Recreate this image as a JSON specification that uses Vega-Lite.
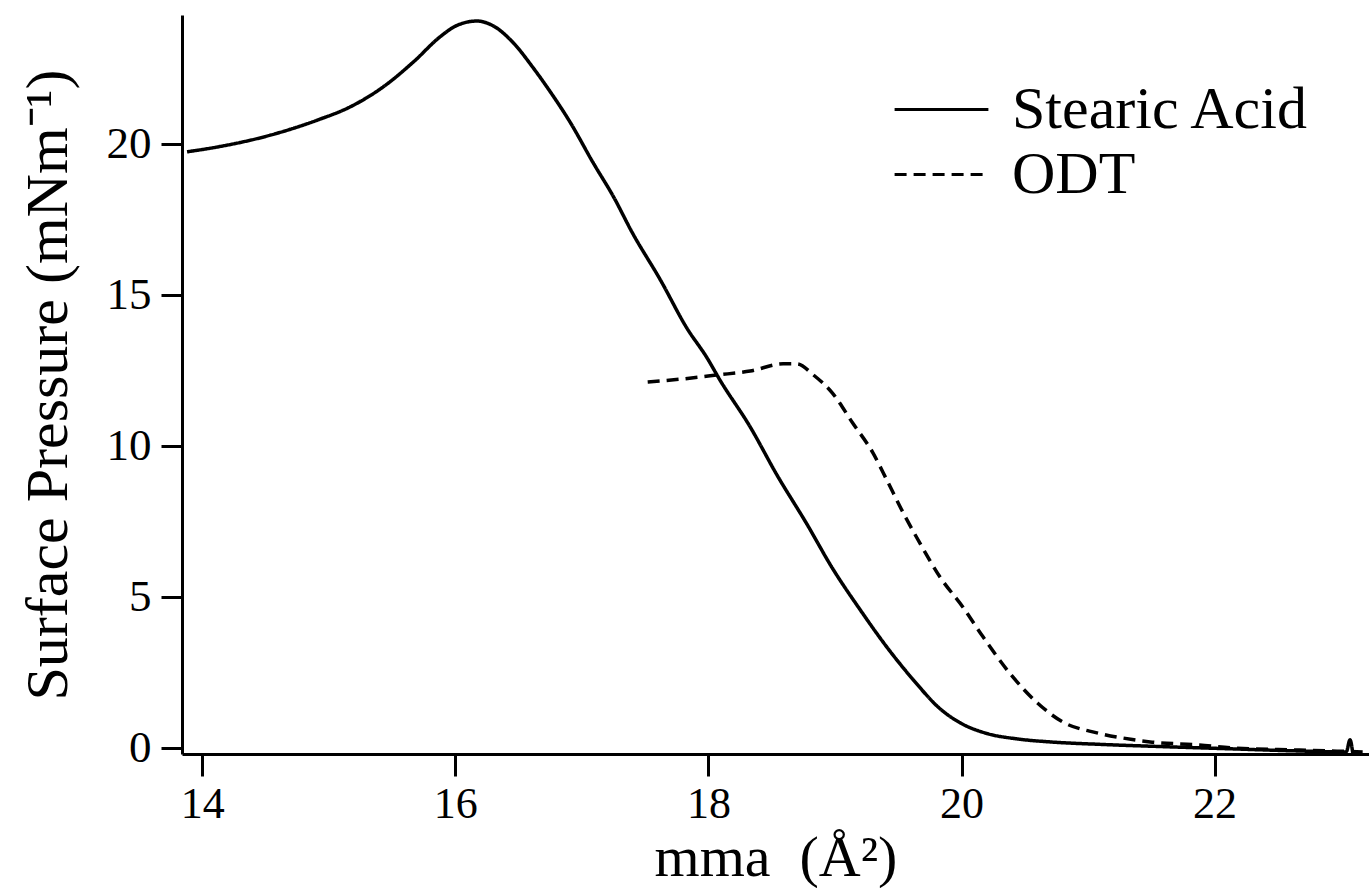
{
  "$schema": "https://vega.github.io/schema/vega-lite/v6.json",
  "width": 1187,
  "height": 739,
  "autosize": "none",
  "padding": {"left": 182, "top": 15, "right": 0, "bottom": 134},
  "background": "white",
  "config": {"view": {"stroke": null}, "font": "Liberation Serif"},
  "data": {"values": [
    {"film": "Stearic Acid", "mma": 13.88, "pressure": 19.74},
    {"film": "Stearic Acid", "mma": 14.12, "pressure": 19.90},
    {"film": "Stearic Acid", "mma": 14.51, "pressure": 20.26},
    {"film": "Stearic Acid", "mma": 14.91, "pressure": 20.79},
    {"film": "Stearic Acid", "mma": 15.17, "pressure": 21.23},
    {"film": "Stearic Acid", "mma": 15.43, "pressure": 21.89},
    {"film": "Stearic Acid", "mma": 15.67, "pressure": 22.72},
    {"film": "Stearic Acid", "mma": 15.88, "pressure": 23.55},
    {"film": "Stearic Acid", "mma": 16.01, "pressure": 23.92},
    {"film": "Stearic Acid", "mma": 16.17, "pressure": 24.07},
    {"film": "Stearic Acid", "mma": 16.30, "pressure": 23.91},
    {"film": "Stearic Acid", "mma": 16.46, "pressure": 23.34},
    {"film": "Stearic Acid", "mma": 16.61, "pressure": 22.55},
    {"film": "Stearic Acid", "mma": 16.73, "pressure": 21.85},
    {"film": "Stearic Acid", "mma": 16.91, "pressure": 20.70},
    {"film": "Stearic Acid", "mma": 17.09, "pressure": 19.37},
    {"film": "Stearic Acid", "mma": 17.25, "pressure": 18.25},
    {"film": "Stearic Acid", "mma": 17.40, "pressure": 17.05},
    {"film": "Stearic Acid", "mma": 17.62, "pressure": 15.50},
    {"film": "Stearic Acid", "mma": 17.83, "pressure": 13.90},
    {"film": "Stearic Acid", "mma": 17.99, "pressure": 12.91},
    {"film": "Stearic Acid", "mma": 18.09, "pressure": 12.19},
    {"film": "Stearic Acid", "mma": 18.33, "pressure": 10.63},
    {"film": "Stearic Acid", "mma": 18.54, "pressure": 9.05},
    {"film": "Stearic Acid", "mma": 18.78, "pressure": 7.40},
    {"film": "Stearic Acid", "mma": 18.98, "pressure": 5.95},
    {"film": "Stearic Acid", "mma": 19.20, "pressure": 4.57},
    {"film": "Stearic Acid", "mma": 19.41, "pressure": 3.34},
    {"film": "Stearic Acid", "mma": 19.62, "pressure": 2.25},
    {"film": "Stearic Acid", "mma": 19.83, "pressure": 1.30},
    {"film": "Stearic Acid", "mma": 19.99, "pressure": 0.83},
    {"film": "Stearic Acid", "mma": 20.20, "pressure": 0.48},
    {"film": "Stearic Acid", "mma": 20.44, "pressure": 0.30},
    {"film": "Stearic Acid", "mma": 20.70, "pressure": 0.20},
    {"film": "Stearic Acid", "mma": 21.09, "pressure": 0.12},
    {"film": "Stearic Acid", "mma": 21.62, "pressure": 0.04},
    {"film": "Stearic Acid", "mma": 22.14, "pressure": -0.03},
    {"film": "Stearic Acid", "mma": 22.67, "pressure": -0.10},
    {"film": "Stearic Acid", "mma": 23.04, "pressure": -0.13},
    {"film": "Stearic Acid", "mma": 23.07, "pressure": 0.27},
    {"film": "Stearic Acid", "mma": 23.09, "pressure": -0.12},
    {"film": "ODT", "mma": 17.52, "pressure": 12.12},
    {"film": "ODT", "mma": 17.80, "pressure": 12.22},
    {"film": "ODT", "mma": 18.07, "pressure": 12.35},
    {"film": "ODT", "mma": 18.33, "pressure": 12.48},
    {"film": "ODT", "mma": 18.59, "pressure": 12.72},
    {"film": "ODT", "mma": 18.70, "pressure": 12.72},
    {"film": "ODT", "mma": 18.83, "pressure": 12.35},
    {"film": "ODT", "mma": 18.98, "pressure": 11.75},
    {"film": "ODT", "mma": 19.14, "pressure": 10.76},
    {"film": "ODT", "mma": 19.30, "pressure": 9.77},
    {"film": "ODT", "mma": 19.41, "pressure": 8.87},
    {"film": "ODT", "mma": 19.54, "pressure": 7.78},
    {"film": "ODT", "mma": 19.67, "pressure": 6.79},
    {"film": "ODT", "mma": 19.83, "pressure": 5.66},
    {"film": "ODT", "mma": 20.01, "pressure": 4.67},
    {"film": "ODT", "mma": 20.17, "pressure": 3.68},
    {"film": "ODT", "mma": 20.38, "pressure": 2.48},
    {"film": "ODT", "mma": 20.60, "pressure": 1.49},
    {"film": "ODT", "mma": 20.80, "pressure": 0.86},
    {"film": "ODT", "mma": 21.07, "pressure": 0.50},
    {"film": "ODT", "mma": 21.35, "pressure": 0.28},
    {"film": "ODT", "mma": 21.49, "pressure": 0.20},
    {"film": "ODT", "mma": 21.88, "pressure": 0.10},
    {"film": "ODT", "mma": 22.14, "pressure": 0.00},
    {"film": "ODT", "mma": 22.67, "pressure": -0.07},
    {"film": "ODT", "mma": 23.17, "pressure": -0.13}
  ]},
  "mark": {"type": "line", "color": "black", "strokeWidth": 3.5, "interpolate": "monotone", "clip": true},
  "encoding": {
    "x": {
      "field": "mma", "type": "quantitative",
      "scale": {"domain": [13.84, 23.22], "nice": false, "zero": false},
      "axis": {
        "values": [14, 16, 18, 20, 22], "grid": false,
        "domainColor": "black", "domainWidth": 3,
        "tickColor": "black", "tickWidth": 3, "tickSize": 22,
        "labelFont": "Liberation Serif", "labelFontSize": 44, "labelColor": "black", "labelPadding": 6,
        "title": "mma\u00a0\u00a0(Å²)", "titleFont": "Liberation Serif", "titleFontSize": 58, "titleFontWeight": "normal",
        "titleColor": "black", "titlePadding": 3
      }
    },
    "y": {
      "field": "pressure", "type": "quantitative",
      "scale": {"domain": [-0.2, 24.27], "nice": false, "zero": false},
      "axis": {
        "values": [0, 5, 10, 15, 20], "grid": false,
        "domainColor": "black", "domainWidth": 3,
        "tickColor": "black", "tickWidth": 3, "tickSize": 21,
        "labelFont": "Liberation Serif", "labelFontSize": 45, "labelColor": "black", "labelPadding": 10,
        "title": "Surface Pressure (mNm⁻¹)", "titleFont": "Liberation Serif", "titleFontSize": 60, "titleFontWeight": "normal",
        "titleColor": "black", "titlePadding": 27
      }
    },
    "strokeDash": {
      "field": "film", "type": "nominal",
      "scale": {"domain": ["Stearic Acid", "ODT"], "range": [[1, 0], [12, 7]]},
      "legend": {
        "orient": "none", "legendX": 711, "legendY": 62, "title": null,
        "symbolType": "stroke", "symbolSize": 8800, "symbolStrokeWidth": 3, "symbolStrokeColor": "black",
        "labelFont": "Liberation Serif", "labelFontSize": 60, "labelColor": "black",
        "labelOffset": 22, "labelLimit": 1000, "rowPadding": 0, "padding": 0, "clipHeight": 65
      }
    }
  }
}
